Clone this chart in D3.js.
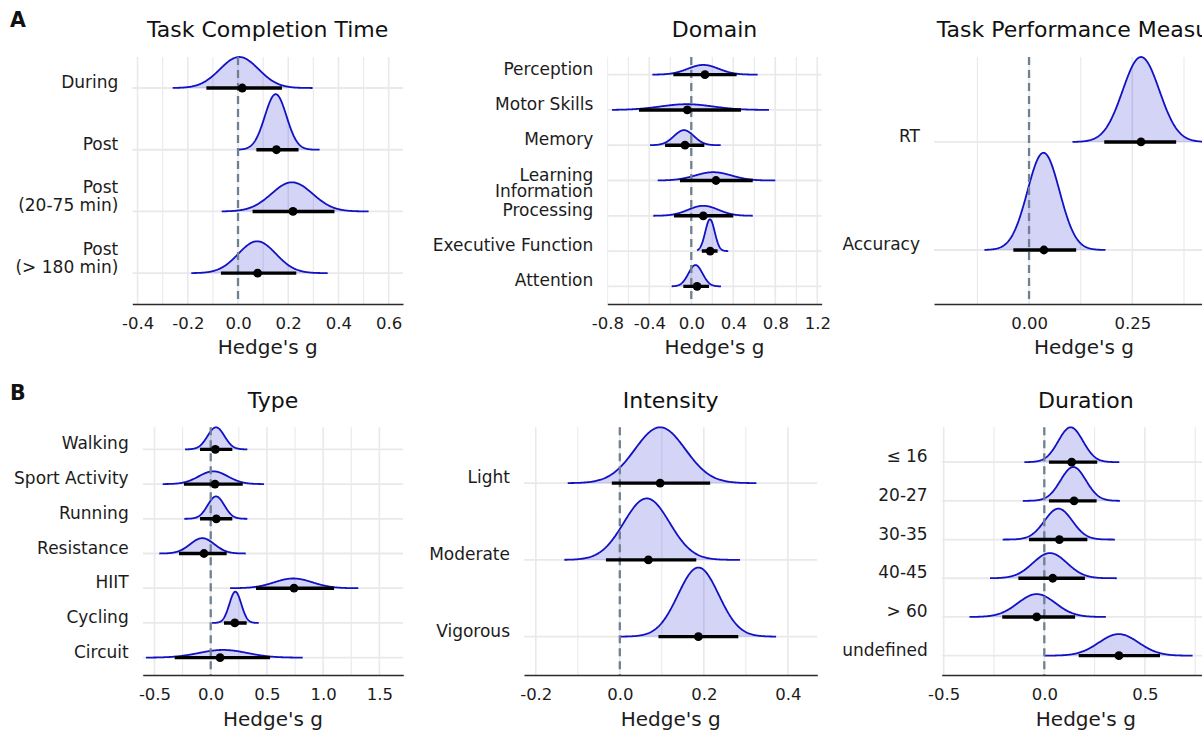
<!DOCTYPE html>
<html>
<head>
<meta charset="utf-8">
<script src="https://cdn.jsdelivr.net/npm/d3@7"></script>
<style>
  body { margin: 0; background: #fff; }
  svg { display: block; font-family: "DejaVu Sans", "Noto Sans", sans-serif; }
</style>
</head>
<body>
<svg id="chart" width="1202" height="732"></svg>
<script>
// ---------- Task Completion Time ----------
const tctLabels = ["During", "Post", "Post\n(20-75 min)", "Post\n(> 180 min)"];
const tctPoint  = [0.017, 0.153, 0.219, 0.078];
const tctLower  = [-0.126, 0.073, 0.058, -0.068];
const tctUpper  = [0.175, 0.241, 0.384, 0.232];
const tctCenter = [0.005, 0.150, 0.215, 0.076];
const tctSpread = [0.077, 0.043, 0.082, 0.075];
const tctMin    = [-0.260, 0.000, -0.065, -0.186];
const tctMax    = [0.297, 0.325, 0.520, 0.357];
const tctTicks  = [-0.4, -0.2, 0.0, 0.2, 0.4, 0.6];

// ---------- Domain ----------
const domLabels = ["Perception", "Motor Skills", "Memory", "Learning", "Information\nProcessing", "Executive Function", "Attention"];
const domPoint  = [0.130, -0.038, -0.060, 0.235, 0.114, 0.180, 0.055];
const domLower  = [-0.171, -0.498, -0.250, -0.108, -0.165, 0.100, -0.076];
const domUpper  = [0.432, 0.473, 0.124, 0.585, 0.400, 0.250, 0.169];
const domCenter = [0.114, -0.044, -0.070, 0.210, 0.114, 0.178, 0.040];
const domSpread = [0.147, 0.250, 0.095, 0.172, 0.143, 0.045, 0.067];
const domMin    = [-0.371, -0.755, -0.393, -0.320, -0.362, 0.055, -0.187];
const domMax    = [0.632, 0.740, 0.280, 0.800, 0.585, 0.352, 0.283];
const domTicks  = [-0.8, -0.4, 0.0, 0.4, 0.8, 1.2];

// ---------- Task Performance Measure ----------
const tpmLabels = ["RT", "Accuracy"];
const tpmPoint  = [0.271, 0.036];
const tpmLower  = [0.182, -0.038];
const tpmUpper  = [0.356, 0.114];
const tpmCenter = [0.271, 0.035];
const tpmSpread = [0.0444, 0.0388];
const tpmMin    = [0.105, -0.108];
const tpmMax    = [0.437, 0.185];
const tpmTicks  = [0.00, 0.25, 0.50];

// ---------- Type ----------
const typLabels = ["Walking", "Sport Activity", "Running", "Resistance", "HIIT", "Cycling", "Circuit"];
const typPoint  = [0.041, 0.038, 0.050, -0.060, 0.741, 0.214, 0.083];
const typLower  = [-0.095, -0.238, -0.095, -0.282, 0.403, 0.118, -0.320];
const typUpper  = [0.192, 0.285, 0.192, 0.142, 1.097, 0.320, 0.528];
const typCenter = [0.047, 0.023, 0.047, -0.075, 0.735, 0.219, 0.110];
const typSpread = [0.075, 0.130, 0.074, 0.108, 0.170, 0.053, 0.215];
const typMin    = [-0.229, -0.427, -0.235, -0.457, 0.172, 0.012, -0.576];
const typMax    = [0.326, 0.474, 0.326, 0.311, 1.313, 0.427, 0.818];
const typTicks  = [-0.5, 0.0, 0.5, 1.0, 1.5];

// ---------- Intensity ----------
const intLabels = ["Light", "Moderate", "Vigorous"];
const intPoint  = [0.096, 0.068, 0.187];
const intLower  = [-0.019, -0.033, 0.092];
const intUpper  = [0.215, 0.182, 0.282];
const intCenter = [0.096, 0.064, 0.187];
const intSpread = [0.060, 0.0545, 0.0485];
const intMin    = [-0.124, -0.132, 0.000];
const intMax    = [0.325, 0.286, 0.372];
const intTicks  = [-0.2, 0.0, 0.2, 0.4];

// ---------- Duration ----------
const durLabels = ["\u2264 16", "20-27", "30-35", "40-45", "> 60", "undefined"];
const durPoint  = [0.136, 0.148, 0.075, 0.042, -0.038, 0.371];
const durLower  = [0.023, 0.023, -0.076, -0.129, -0.209, 0.171];
const durUpper  = [0.263, 0.260, 0.214, 0.202, 0.153, 0.575];
const durCenter = [0.131, 0.144, 0.070, 0.028, -0.038, 0.370];
const durSpread = [0.0612, 0.063, 0.069, 0.0847, 0.0933, 0.099];
const durMin    = [-0.099, -0.107, -0.207, -0.270, -0.372, 0.000];
const durMax    = [0.373, 0.376, 0.351, 0.360, 0.306, 0.737];
const durTicks  = [-0.5, 0.0, 0.5];

// ---------- layout ----------
const bands = [
  { top: 57,    bottom: 304, titleY: 37.3,  tickY: 328.5, axisTitleY: 354, letter: "A", letterY: 27 },
  { top: 427.3, bottom: 675, titleY: 408.3, tickY: 700,   axisTitleY: 726, letter: "B", letterY: 400 }
];

const panels = [
  { band: 0, title: "Task Completion Time", x0: 132.3, x1: 403,   xlim: [-0.421, 0.657], fmt: ".1f",
    labels: tctLabels, point: tctPoint, lower: tctLower, upper: tctUpper, center: tctCenter, spread: tctSpread, lo: tctMin, hi: tctMax, ticks: tctTicks },
  { band: 0, title: "Domain", x0: 607.3, x1: 821.7, xlim: [-0.8, 1.242], fmt: ".1f",
    labels: domLabels, point: domPoint, lower: domLower, upper: domUpper, center: domCenter, spread: domSpread, lo: domMin, hi: domMax, ticks: domTicks },
  { band: 0, title: "Task Performance Measure", x0: 934, x1: 1234, xlim: [-0.23, 0.496], fmt: ".2f",
    labels: tpmLabels, point: tpmPoint, lower: tpmLower, upper: tpmUpper, center: tpmCenter, spread: tpmSpread, lo: tpmMin, hi: tpmMax, ticks: tpmTicks },
  { band: 1, title: "Type", x0: 142.7, x1: 403.3, xlim: [-0.605, 1.713], fmt: ".1f",
    labels: typLabels, point: typPoint, lower: typLower, upper: typUpper, center: typCenter, spread: typSpread, lo: typMin, hi: typMax, ticks: typTicks },
  { band: 1, title: "Intensity", x0: 524, x1: 817.3, xlim: [-0.228, 0.470], fmt: ".1f",
    labels: intLabels, point: intPoint, lower: intLower, upper: intUpper, center: intCenter, spread: intSpread, lo: intMin, hi: intMax, ticks: intTicks },
  { band: 1, title: "Duration", x0: 941.7, x1: 1230, xlim: [-0.51, 0.923], fmt: ".1f",
    labels: durLabels, point: durPoint, lower: durLower, upper: durUpper, center: durCenter, spread: durSpread, lo: durMin, hi: durMax, ticks: durTicks }
];

const style = {
  grid: "#e9e9ec",
  slabFill: "#0000cd",
  slabFillOpacity: 0.17,
  slabLine: "#1212c4",
  zeroLine: "#6f8090",
  text: "#1c1c1c",
  axis: "#2a2a2a"
};

const locale = d3.formatLocale({ decimal: ".", thousands: ",", grouping: [3], currency: ["", ""], minus: "-" });

const svg = d3.select("#chart");
svg.append("rect").attr("width", 1202).attr("height", 732).attr("fill", "#fff");

// panel letters
bands.forEach(b => {
  svg.append("text")
    .attr("x", 10).attr("y", b.letterY)
    .attr("font-size", 20.5).attr("font-weight", "bold")
    .attr("fill", "#111")
    .text(b.letter);
});

panels.forEach((p, pi) => {
  const B = bands[p.band];
  const n = p.labels.length;
  const sdMin = d3.min(p.spread);
  // slab heights in row units: the narrowest distribution fills 0.9 of a row
  const h = p.spread.map(sd => 0.9 * sdMin / sd);
  const yMax = n + Math.max(0.5, h[0]);

  const x = d3.scaleLinear().domain(p.xlim).range([p.x0, p.x1]);
  const y = d3.scaleLinear().domain([0.5, yMax]).range([B.bottom, B.top]);
  const rowPos = i => y(n - i);

  const g = svg.append("g");
  const clipId = "clip" + pi;
  g.append("clipPath").attr("id", clipId)
    .append("rect").attr("x", p.x0).attr("y", B.top - 2)
    .attr("width", p.x1 - p.x0).attr("height", B.bottom - B.top + 2);

  const plot = g.append("g").attr("clip-path", `url(#${clipId})`);

  // minor gridlines halfway between major ticks
  const step = p.ticks[1] - p.ticks[0];
  const minors = [];
  for (let k = -4; k < p.ticks.length + 4; k++) {
    const v = p.ticks[0] + (k + 0.5) * step;
    if (v >= p.xlim[0] && v <= p.xlim[1]) minors.push(v);
  }
  plot.selectAll(".minor").data(minors).join("line")
    .attr("x1", d => x(d)).attr("x2", d => x(d))
    .attr("y1", B.top).attr("y2", B.bottom)
    .attr("stroke", style.grid).attr("stroke-width", 1.1);
  plot.selectAll(".major").data(p.ticks.filter(t => t >= p.xlim[0] && t <= p.xlim[1])).join("line")
    .attr("x1", d => x(d)).attr("x2", d => x(d))
    .attr("y1", B.top).attr("y2", B.bottom)
    .attr("stroke", style.grid).attr("stroke-width", 1.6);
  plot.selectAll(".hrow").data(p.labels).join("line")
    .attr("x1", p.x0).attr("x2", p.x1)
    .attr("y1", (d, i) => rowPos(i)).attr("y2", (d, i) => rowPos(i))
    .attr("stroke", style.grid).attr("stroke-width", 1.8);

  // density slabs
  const rowUnit = y(0) - y(1);
  p.labels.forEach((lab, i) => {
    const base = rowPos(i);
    const pts = d3.range(0, 201).map(k => {
      const v = p.lo[i] + (p.hi[i] - p.lo[i]) * k / 200;
      const z = (v - p.center[i]) / p.spread[i];
      return [v, Math.exp(-0.5 * z * z)];
    });
    const area = d3.area()
      .x(d => x(d[0]))
      .y0(base)
      .y1(d => base - h[i] * rowUnit * d[1])
      .curve(d3.curveLinear);
    const line = d3.line()
      .x(d => x(d[0]))
      .y(d => base - h[i] * rowUnit * d[1]);
    plot.append("path").attr("d", area(pts))
      .attr("fill", style.slabFill).attr("fill-opacity", style.slabFillOpacity);
    plot.append("path").attr("d", line(pts))
      .attr("fill", "none").attr("stroke", style.slabLine)
      .attr("stroke-width", 1.8).attr("stroke-linejoin", "round");
  });

  // reference line at zero
  plot.append("line")
    .attr("x1", x(0)).attr("x2", x(0))
    .attr("y1", B.top).attr("y2", B.bottom)
    .attr("stroke", style.zeroLine).attr("stroke-width", 2.3)
    .attr("stroke-dasharray", "8,5");

  // intervals and point estimates
  plot.selectAll(".interval").data(p.labels).join("line")
    .attr("x1", (d, i) => x(p.lower[i])).attr("x2", (d, i) => x(p.upper[i]))
    .attr("y1", (d, i) => rowPos(i)).attr("y2", (d, i) => rowPos(i))
    .attr("stroke", "#000").attr("stroke-width", 3.4);
  plot.selectAll(".pt").data(p.labels).join("circle")
    .attr("cx", (d, i) => x(p.point[i])).attr("cy", (d, i) => rowPos(i))
    .attr("r", 4.4).attr("fill", "#000");

  // x axis
  const axis = d3.axisBottom(x)
    .tickValues(p.ticks.filter(t => t >= p.xlim[0] && t <= p.xlim[1]))
    .tickFormat(locale.format(p.fmt))
    .tickSize(0).tickSizeOuter(0);
  const ax = g.append("g").attr("transform", `translate(0,${B.bottom})`).call(axis);
  ax.select(".domain").attr("stroke", style.axis).attr("stroke-width", 1.7);
  ax.selectAll(".tick text")
    .attr("y", B.tickY - B.bottom).attr("dy", null)
    .attr("font-size", 16.5).attr("font-family", '"DejaVu Sans", sans-serif')
    .attr("fill", style.text);

  // axis title
  g.append("text")
    .attr("x", (p.x0 + p.x1) / 2).attr("y", B.axisTitleY)
    .attr("text-anchor", "middle").attr("font-size", 20)
    .attr("fill", style.text).text("Hedge's g");

  // panel title
  g.append("text")
    .attr("x", (p.x0 + p.x1) / 2).attr("y", B.titleY)
    .attr("text-anchor", "middle").attr("font-size", 22)
    .attr("fill", "#111").text(p.title);

  // category labels, last line sitting on the row baseline
  p.labels.forEach((lab, i) => {
    const lines = lab.split("\n");
    const t = g.append("text")
      .attr("x", p.x0 - 14).attr("y", rowPos(i))
      .attr("text-anchor", "end").attr("font-size", 17)
      .attr("fill", style.text);
    lines.forEach((ln, k) => {
      t.append("tspan")
        .attr("x", p.x0 - 14)
        .attr("dy", k === 0 ? -(lines.length - 1) * 18.5 : 18.5)
        .text(ln);
    });
  });
});
</script>
</body>
</html>
